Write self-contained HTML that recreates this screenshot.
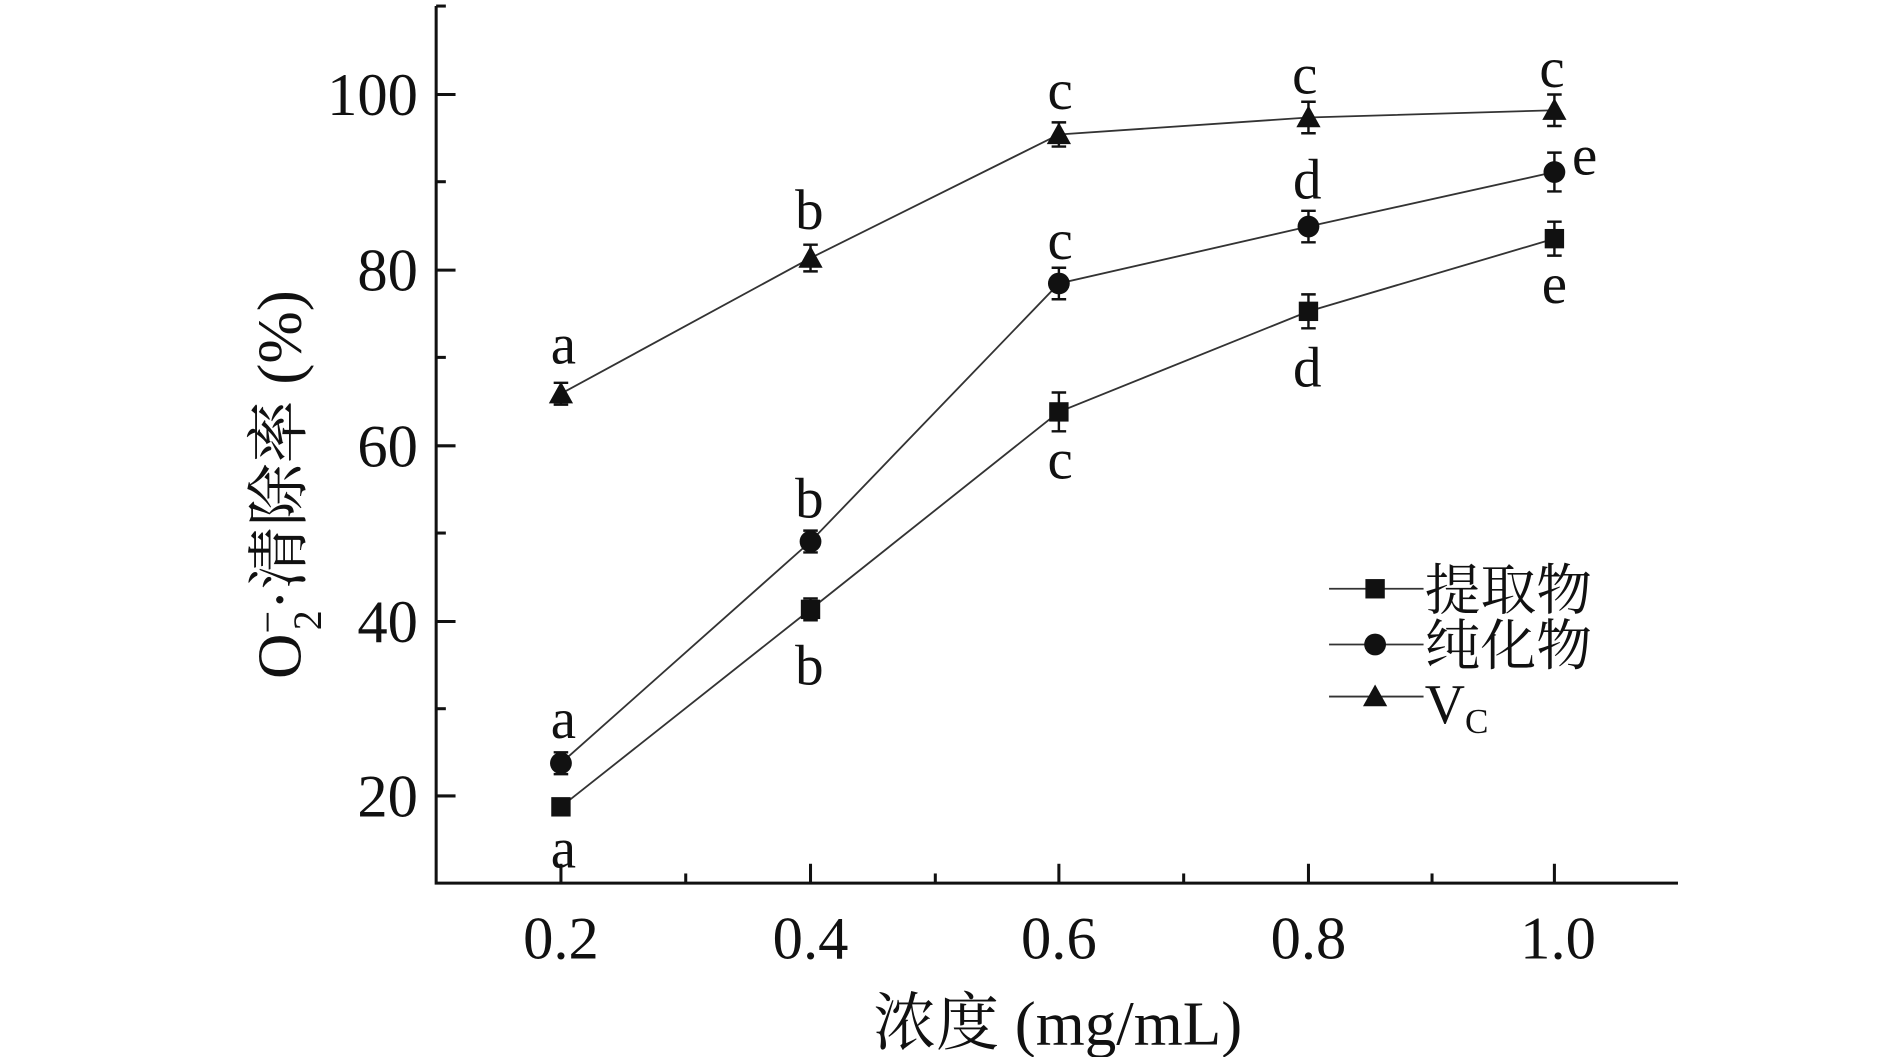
<!DOCTYPE html>
<html><head><meta charset="utf-8"><style>html,body{margin:0;padding:0;background:#fff;overflow:hidden}</style></head>
<body>
<svg width="1890" height="1057" viewBox="0 0 1560 872.5" preserveAspectRatio="none" xmlns="http://www.w3.org/2000/svg" style="display:block">
<g font-family="Liberation Serif, 'Noto Serif CJK SC', serif" fill="#111">
<path d="M360 5 V729 H1385" stroke="#111" stroke-width="2.5" fill="none"/>
<g stroke="#111" stroke-width="2.5">
<line x1="360" y1="78" x2="376" y2="78"/><line x1="360" y1="223" x2="376" y2="223"/><line x1="360" y1="368" x2="376" y2="368"/><line x1="360" y1="513" x2="376" y2="513"/><line x1="360" y1="657" x2="376" y2="657"/>
<line x1="360" y1="5" x2="368" y2="5"/><line x1="360" y1="150" x2="368" y2="150"/><line x1="360" y1="295" x2="368" y2="295"/><line x1="360" y1="440" x2="368" y2="440"/><line x1="360" y1="585" x2="368" y2="585"/>
<line x1="463" y1="729" x2="463" y2="713"/><line x1="669" y1="729" x2="669" y2="713"/><line x1="874" y1="729" x2="874" y2="713"/><line x1="1080" y1="729" x2="1080" y2="713"/><line x1="1283" y1="729" x2="1283" y2="713"/>
<line x1="566" y1="729" x2="566" y2="721"/><line x1="772" y1="729" x2="772" y2="721"/><line x1="977" y1="729" x2="977" y2="721"/><line x1="1182" y1="729" x2="1182" y2="721"/>
</g>
<g font-size="50" text-anchor="end">
<text x="345" y="95">100</text><text x="345" y="240">80</text><text x="345" y="385">60</text><text x="345" y="530">40</text><text x="345" y="674">20</text>
</g>
<g font-size="50" text-anchor="middle">
<text x="463" y="791">0.2</text><text x="669" y="791">0.4</text><text x="874" y="791">0.6</text><text x="1080" y="791">0.8</text><text x="1286" y="791">1.0</text>
</g>
<text x="873" y="862" font-size="52" text-anchor="middle">浓度 (mg/mL)</text>
<text transform="translate(248,400) rotate(-90)" font-size="52" text-anchor="middle">O<tspan font-size="33" dy="-16">−</tspan><tspan font-size="33" dx="-16" dy="33">2</tspan><tspan dy="-17">·清除率 (%)</tspan></text>
<g fill="none" stroke="#333" stroke-width="1.5">
<polyline points="463,325 669,213 874,111 1080,97 1283,91"/>
<polyline points="463,630 669,447 874,234 1080,187 1283,142"/>
<polyline points="463,666 669,503 874,340 1080,257 1283,197"/>
</g>
<g stroke="#111" stroke-width="2">
<path d="M463 316V334M457 316H469M457 334H469M669 202V224M663 202H675M663 224H675M874 101V121M868 101H880M868 121H880M1080 84V110M1074 84H1086M1074 110H1086M1283 78V104M1277 78H1289M1277 104H1289"/>
<path d="M463 621V639M457 621H469M457 639H469M669 438V456M663 438H675M663 456H675M874 221V247M868 221H880M868 247H880M1080 174V200M1074 174H1086M1074 200H1086M1283 126V158M1277 126H1289M1277 158H1289"/>
<path d="M874 324V356M868 324H880M868 356H880M1080 243V271M1074 243H1086M1074 271H1086M1283 183V211M1277 183H1289M1277 211H1289M669 494V512M663 494H675M663 512H675"/>
</g>
<g>
<path d="M463 315L473 333H453Z M669 203L679 221H659Z M874 101L884 119H864Z M1080 87L1090 105H1070Z M1283 81L1293 99H1273Z"/>
<circle cx="463" cy="630" r="9"/><circle cx="669" cy="447" r="9"/><circle cx="874" cy="234" r="9"/><circle cx="1080" cy="187" r="9"/><circle cx="1283" cy="142" r="9"/>
<rect x="455" y="658" width="16" height="16"/><rect x="661" y="495" width="16" height="16"/><rect x="866" y="332" width="16" height="16"/><rect x="1072" y="249" width="16" height="16"/><rect x="1275" y="189" width="16" height="16"/>
</g>
<g font-size="47" text-anchor="middle">
<text x="465" y="300">a</text><text x="668" y="189">b</text><text x="875" y="90">c</text><text x="1077" y="77">c</text><text x="1281" y="72">c</text>
<text x="465" y="609">a</text><text x="668" y="427">b</text><text x="875" y="214">c</text><text x="1079" y="164">d</text><text x="1308" y="144">e</text>
<text x="465" y="716">a</text><text x="668" y="565">b</text><text x="875" y="395">c</text><text x="1079" y="319">d</text><text x="1283" y="250">e</text>
</g>
<g stroke="#333" stroke-width="1.5"><line x1="1097" y1="486" x2="1175" y2="486"/><line x1="1097" y1="532" x2="1175" y2="532"/><line x1="1097" y1="575" x2="1175" y2="575"/></g>
<rect x="1127" y="478" width="16" height="16"/><circle cx="1135" cy="532" r="9"/><path d="M1135 565L1145 583H1125Z"/>
<g font-size="46"><text x="1176" y="503">提取物</text><text x="1176" y="549">纯化物</text><text x="1176" y="597">V<tspan font-size="29" dy="8">C</tspan></text></g>
</g>
</svg>
</body></html>
